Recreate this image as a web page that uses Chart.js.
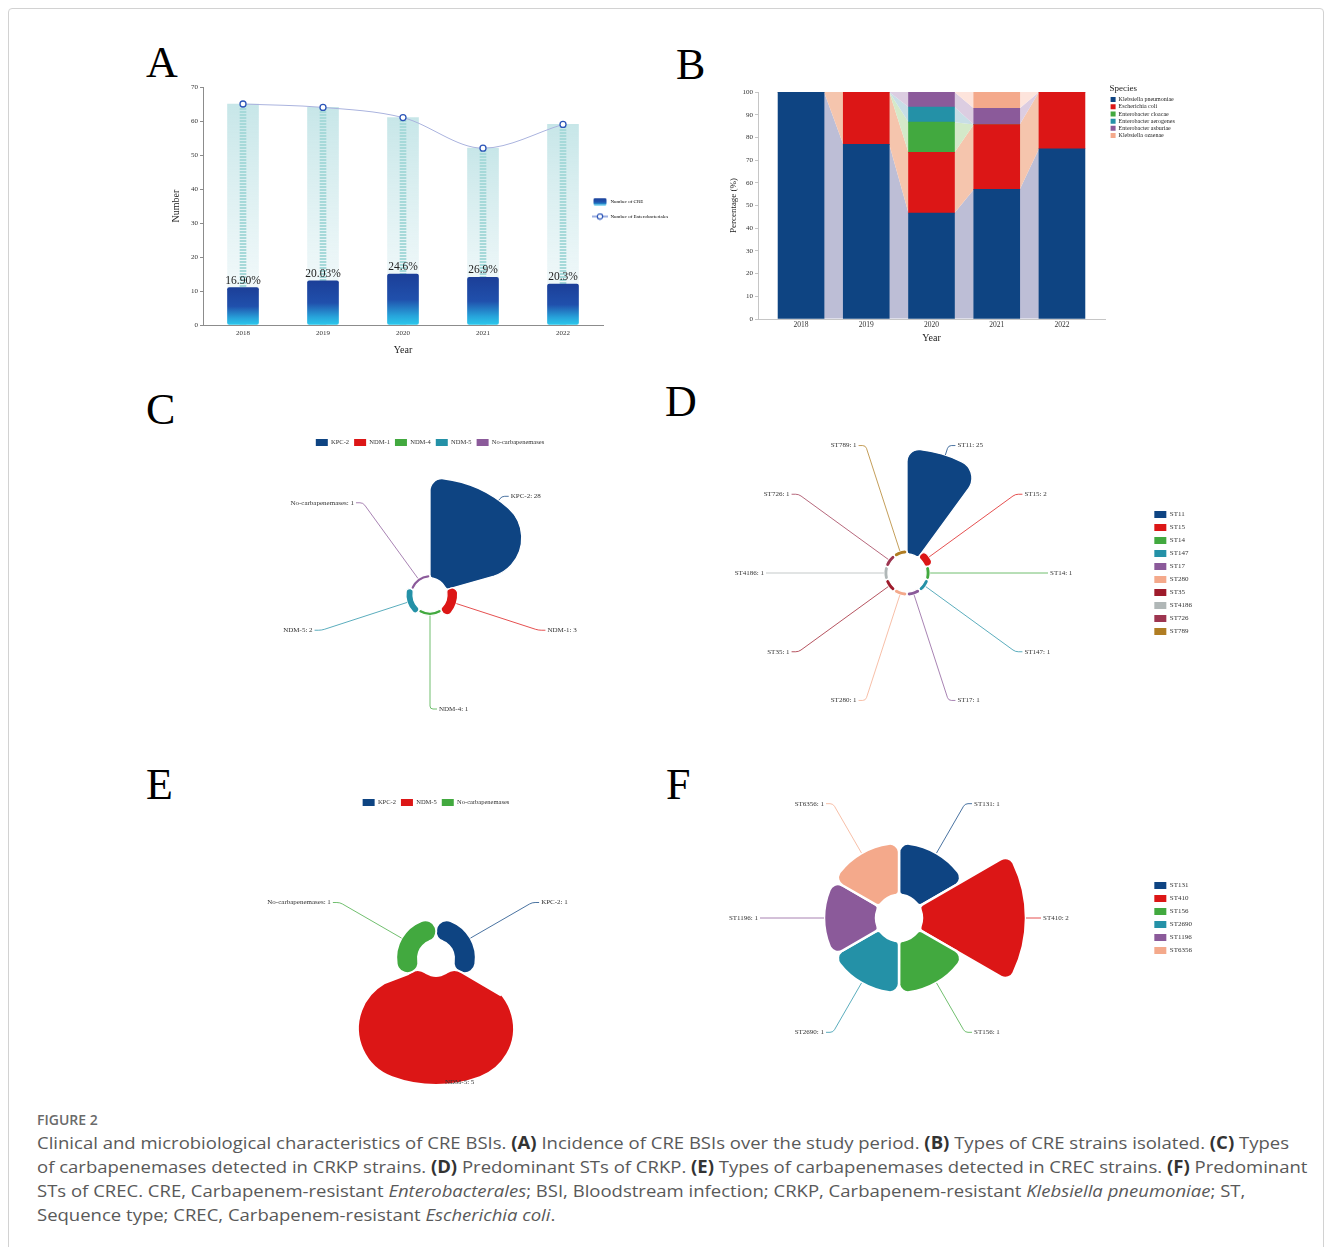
<!DOCTYPE html>
<html>
<head>
<meta charset="utf-8">
<title>Figure 2 – CRE bloodstream infections</title>
<script src="https://cdn.jsdelivr.net/npm/chart.js@4.4.1/dist/chart.umd.min.js"></script>
<style>
  html, body { margin: 0; padding: 0; background: #fff; }
  #page { position: relative; width: 1331px; height: 1247px; overflow: hidden; background: #fff; }
  .frame { position: absolute; left: 8px; top: 8px; width: 1314px; height: 1270px; border: 1px solid #d2d2d2; border-radius: 4px; }
  .panel { position: absolute; }
  .panel canvas { display: block; }
  .letter { position: absolute; font-family: "Liberation Serif", "Times New Roman", serif; font-size: 44px; line-height: 44px; color: #000; }
  .figlabel { position: absolute; left: 37px; top: 1111px; font-family: "Open Sans", sans-serif; font-weight: 600; font-size: 14px; line-height: 18px; color: #6a6a6a; }
  .capline { position: absolute; left: 37px; font-family: "Open Sans", sans-serif; font-size: 17px; line-height: 24px; color: #595959; white-space: nowrap; transform-origin: 0 0; }
  .capline b { color: #333; font-weight: 700; }
</style>
</head>
<body>
<div id="page">
  <div class="frame"></div>

  <div class="letter" style="left:146px; top:41px;">A</div>
  <div class="letter" style="left:676px; top:43px;">B</div>
  <div class="letter" style="left:146px; top:388px;">C</div>
  <div class="letter" style="left:665px; top:380px;">D</div>
  <div class="letter" style="left:146px; top:763px;">E</div>
  <div class="letter" style="left:666px; top:763px;">F</div>

  <div class="panel" style="left:140px; top:75px;"><canvas id="chartA" width="600" height="285"></canvas></div>
  <div class="panel" style="left:700px; top:80px;"><canvas id="chartB" width="520" height="268"></canvas></div>
  <div class="panel" style="left:250px; top:434px;"><canvas id="chartC" width="360" height="300"></canvas></div>
  <div class="panel" style="left:640px; top:423px;"><canvas id="chartD" width="584" height="300"></canvas></div>
  <div class="panel" style="left:256px; top:794px;"><canvas id="chartE" width="360" height="306"></canvas></div>
  <div class="panel" style="left:640px; top:768px;"><canvas id="chartF" width="584" height="300"></canvas></div>

  <div class="figlabel">FIGURE 2</div>
  <div class="capline" style="top:1131px;">Clinical and microbiological characteristics of CRE BSIs. <b>(A)</b> Incidence of CRE BSIs over the study period. <b>(B)</b> Types of CRE strains isolated. <b>(C)</b> Types</div>
  <div class="capline" style="top:1155px;">of carbapenemases detected in CRKP strains. <b>(D)</b> Predominant STs of CRKP. <b>(E)</b> Types of carbapenemases detected in CREC strains. <b>(F)</b> Predominant</div>
  <div class="capline" style="top:1179px;">STs of CREC. CRE, Carbapenem-resistant <i>Enterobacterales</i>; BSI, Bloodstream infection; CRKP, Carbapenem-resistant <i>Klebsiella pneumoniae</i>; ST,</div>
  <div class="capline" style="top:1203px;">Sequence type; CREC, Carbapenem-resistant <i>Escherichia coli</i>.</div>
</div>

<script>
// ---------- data ----------
const years = ['2018', '2019', '2020', '2021', '2022'];

// (A) yearly counts
const creCounts = [11, 13, 15, 14, 12];
const enteroCounts = [65, 64, 61, 52, 59];
const creShareLabels = ['16.90%', '20.03%', '24.6%', '26.9%', '20.3%'];

// (B) species share of CRE isolates per year, %
const speciesNames = ['Klebsiella pneumoniae', 'Escherichia coli', 'Enterobacter cloacae',
                      'Enterobacter aerogenes', 'Enterobacter asburiae', 'Klebsiella ozaenae'];
const kpnPct = [100, 76.9, 46.7, 57.1, 75];
const ecoPct = [0, 23.1, 26.7, 28.6, 25];
const eclPct = [0, 0, 13.3, 0, 0];
const eaePct = [0, 0, 6.7, 0, 0];
const easPct = [0, 0, 6.6, 7.1, 0];
const kozPct = [0, 0, 0, 7.2, 0];

// (C) carbapenemases in CRKP
const crkpEnzymes = ['KPC-2', 'NDM-1', 'NDM-4', 'NDM-5', 'No-carbapenemases'];
const crkpEnzymeCounts = [28, 3, 1, 2, 1];

// (D) sequence types of CRKP
const crkpSTs = ['ST11', 'ST15', 'ST14', 'ST147', 'ST17', 'ST280', 'ST35', 'ST4186', 'ST726', 'ST789'];
const crkpSTCounts = [25, 2, 1, 1, 1, 1, 1, 1, 1, 1];

// (E) carbapenemases in CREC
const crecEnzymes = ['KPC-2', 'NDM-5', 'No-carbapenemases'];
const crecEnzymeCounts = [1, 5, 1];

// (F) sequence types of CREC
const crecSTs = ['ST131', 'ST410', 'ST156', 'ST2690', 'ST1196', 'ST6356'];
const crecSTCounts = [1, 2, 1, 1, 1, 1];

// ---------- palette ----------
const NAVY = '#0e4482', RED = '#dc1616', GREEN = '#42a93f', TEAL = '#2491a7', PURPLE = '#8b5a9a', SALMON = '#f4a98b';
const speciesColors = [NAVY, RED, GREEN, TEAL, PURPLE, SALMON];
const speciesFlowColors = ['#bdbed6', '#f5c5ad', '#d4e9c9', '#c8dee6', '#dccde1', '#fde4dc'];
const stColors = [NAVY, RED, GREEN, TEAL, PURPLE, SALMON, '#9e1b2b', '#b0b7b7', '#9d3550', '#b07d23'];

// ---------- global defaults ----------
const SERIF = "'Liberation Serif', 'Times New Roman', serif";
Chart.defaults.animation = false;
Chart.defaults.events = [];
Chart.defaults.font.family = SERIF;
Chart.defaults.color = '#333';
Chart.defaults.plugins.tooltip.enabled = false;

// ---------- helpers ----------
function hexToRgba(hex, a) {
  const n = parseInt(hex.slice(1), 16);
  return `rgba(${(n >> 16) & 255},${(n >> 8) & 255},${n & 255},${a})`;
}

// vertical gradient spanning a single bar, from its top to the zero line
function barGradient(stops, fallback) {
  return (c) => {
    const chart = c.chart;
    if (!chart.chartArea || c.type !== 'data' || !c.parsed) return fallback;
    const y = chart.scales.y;
    const top = y.getPixelForValue(c.parsed.y);
    const base = y.getPixelForValue(0);
    if (!(base - top > 0)) return fallback;
    const g = chart.ctx.createLinearGradient(0, top, 0, base);
    stops.forEach(([o, col]) => g.addColorStop(o, col));
    return g;
  };
}

// thin striped column fill
function stripePattern() {
  const c = document.createElement('canvas');
  c.width = 6; c.height = 3;
  const g = c.getContext('2d');
  g.fillStyle = '#a6d9d9';
  g.fillRect(0, 0, 6, 2);
  return g.createPattern(c, 'repeat');
}

function iconBar() {
  const c = document.createElement('canvas');
  c.width = 14; c.height = 8;
  const g = c.getContext('2d');
  const gr = g.createLinearGradient(0, 0, 0, 8);
  gr.addColorStop(0, '#1b3f97'); gr.addColorStop(0.6, '#2156b0'); gr.addColorStop(1, '#2ac8ec');
  g.fillStyle = gr;
  g.beginPath(); g.roundRect(0.5, 0.5, 13, 7, 1.5); g.fill();
  return c;
}

function iconLineMarker() {
  const c = document.createElement('canvas');
  c.width = 16; c.height = 8;
  const g = c.getContext('2d');
  g.strokeStyle = '#3a5fc0'; g.lineWidth = 1;
  g.beginPath(); g.moveTo(0, 4); g.lineTo(16, 4); g.stroke();
  g.beginPath(); g.arc(8, 4, 2.7, 0, Math.PI * 2);
  g.fillStyle = '#fff'; g.fill();
  g.lineWidth = 1.2; g.strokeStyle = '#2c55b8'; g.stroke();
  return c;
}

// radial range so that 0 sits on the hole edge and the largest value on the outer edge
function roseRange(maxValue, areaPx, holePx, outerPx) {
  const span = maxValue * areaPx / (outerPx - holePx);
  const min = -holePx * span / areaPx;
  return { min, max: min + span };
}

// keep the plot's right edge at a fixed x whatever the legend width turns out to be
function pinChartRight(chart, right) {
  chart.options.layout.padding.right += chart.chartArea.right - right;
  chart.update();
}

// ---------- plugins ----------
// shifts a legend box inside its canvas
const legendNudge = {
  id: 'legendNudge',
  afterLayout(chart, args, opts) {
    const lg = chart.legend;
    if (!lg || !opts) return;
    const dx = opts.dx || 0, dy = opts.dy || 0;
    lg.left += dx; lg.right += dx; lg.top += dy; lg.bottom += dy;
  }
};

// percentage captions above the CRE columns
const barCaptions = {
  id: 'barCaptions',
  afterDatasetsDraw(chart, args, opts) {
    const meta = chart.getDatasetMeta(opts.datasetIndex);
    const { ctx } = chart;
    ctx.save();
    ctx.font = `${opts.size}px ${SERIF}`;
    ctx.fillStyle = opts.color;
    ctx.textAlign = 'center';
    ctx.textBaseline = 'alphabetic';
    meta.data.forEach((el, i) => {
      const p = el.getProps(['x', 'y'], true);
      ctx.fillText(opts.labels[i], p.x, p.y - opts.gap);
    });
    ctx.restore();
  }
};

// ribbons joining equal series of neighbouring stacked columns
const flowBands = {
  id: 'flowBands',
  beforeDatasetsDraw(chart, args, opts) {
    const { ctx, chartArea } = chart;
    ctx.save();
    ctx.beginPath();
    ctx.rect(chartArea.left, chartArea.top, chartArea.width, chartArea.height);
    ctx.clip();
    chart.data.datasets.forEach((ds, di) => {
      const els = chart.getDatasetMeta(di).data;
      for (let i = 0; i < els.length - 1; i++) {
        const a = els[i].getProps(['x', 'y', 'base', 'width'], true);
        const b = els[i + 1].getProps(['x', 'y', 'base', 'width'], true);
        ctx.beginPath();
        ctx.moveTo(a.x + a.width / 2, a.y);
        ctx.lineTo(b.x - b.width / 2, b.y);
        ctx.lineTo(b.x - b.width / 2, b.base);
        ctx.lineTo(a.x + a.width / 2, a.base);
        ctx.closePath();
        ctx.fillStyle = opts.colors[di];
        ctx.fill();
      }
    });
    ctx.restore();
  }
};

// opens the centre of a rose chart: every sector starts at the value-0 radius
const roseHole = {
  id: 'roseHole',
  afterDatasetUpdate(chart, args) {
    const r = chart.scales.r;
    const inner = r.getDistanceFromCenterForValue(0);
    args.meta.data.forEach((arc) => { arc.innerRadius = inner; });
  }
};

// outside labels with leader lines for rose charts
const roseLabels = {
  id: 'roseLabels',
  afterDatasetsDraw(chart, args, opts) {
    const meta = chart.getDatasetMeta(0);
    const ds = chart.data.datasets[0];
    const labels = chart.data.labels;
    const { ctx } = chart;
    ctx.save();
    ctx.font = `${opts.size}px ${SERIF}`;
    ctx.textBaseline = 'middle';
    meta.data.forEach((arc, i) => {
      const p = arc.getProps(['x', 'y', 'startAngle', 'endAngle', 'outerRadius'], true);
      const mid = (p.startAngle + p.endAngle) / 2;
      const cs = Math.cos(mid), sn = Math.sin(mid);
      const lr = p.outerRadius + opts.beyond > opts.radius ? p.outerRadius + opts.beyond : opts.radius;
      const side = cs >= -1e-6 ? 1 : -1;
      const x1 = p.x + cs * p.outerRadius, y1 = p.y + sn * p.outerRadius;
      const x2 = p.x + cs * lr, y2 = p.y + sn * lr;
      const x3 = x2 + side * opts.hook;
      const bend = Math.min(3, Math.max(0, lr - p.outerRadius));
      ctx.strokeStyle = hexToRgba(ds.backgroundColor[i], 0.75);
      ctx.lineWidth = 1;
      ctx.beginPath();
      if (lr > p.outerRadius) {
        ctx.moveTo(x1, y1);
        ctx.lineTo(x2 - cs * bend, y2 - sn * bend);
        ctx.quadraticCurveTo(x2, y2, x2 + side * 3, y2);
      } else {
        ctx.moveTo(x2, y2);
      }
      ctx.lineTo(x3, y2);
      ctx.stroke();
      ctx.fillStyle = '#333';
      ctx.textAlign = side > 0 ? 'left' : 'right';
      ctx.fillText(`${labels[i]}: ${ds.data[i]}`, x3 + side * 2, y2);
    });
    ctx.restore();
  }
};

// ---------- (A) incidence of CRE ----------
const iconA1 = iconBar();
const iconA2 = iconLineMarker();
const chartA = new Chart(document.getElementById('chartA'), {
  data: {
    labels: years,
    datasets: [
      {
        type: 'bar', label: 'Number of CRE', data: creCounts, order: 1, grouped: false,
        barThickness: 31, borderRadius: 2, borderSkipped: false,
        backgroundColor: barGradient([[0, '#1c3f98'], [0.5, '#2050ac'], [0.82, '#27a4db'], [1, '#2bc9ec']], '#2156b0')
      },
      {
        type: 'line', label: 'Number of Enterobacteriales', data: enteroCounts, order: 0,
        borderColor: '#aab3de', borderWidth: 1, cubicInterpolationMode: 'monotone',
        pointRadius: 3, pointBackgroundColor: '#fff', pointBorderColor: '#2c55b8', pointBorderWidth: 1.3
      },
      {
        type: 'bar', label: 'stripe', data: enteroCounts, order: 2, grouped: false,
        barThickness: 6, backgroundColor: stripePattern()
      },
      {
        type: 'bar', label: 'backdrop', data: enteroCounts, order: 3, grouped: false,
        barThickness: 31,
        backgroundColor: barGradient([[0, 'rgba(196,229,231,0.95)'], [1, 'rgba(240,248,250,0.6)']], '#dff0f1')
      }
    ]
  },
  options: {
    responsive: false,
    layout: { padding: { left: 26, top: 12, right: 0, bottom: 0 } },
    scales: {
      x: {
        grid: { display: false, drawTicks: false },
        border: { color: '#8c8c8c' },
        ticks: { font: { size: 7 }, padding: 4, color: '#333' },
        title: { display: true, text: 'Year', font: { size: 10 }, color: '#222' },
        afterFit: (s) => { s.height = 35; }
      },
      y: {
        min: 0, max: 70,
        ticks: { stepSize: 10, font: { size: 7 }, padding: 2, color: '#333' },
        grid: { display: true, drawOnChartArea: false, tickLength: 3, color: '#8c8c8c' },
        border: { color: '#8c8c8c' },
        title: { display: true, text: 'Number', font: { size: 10 }, color: '#222' },
        afterFit: (s) => { s.width = 37; }
      }
    },
    plugins: {
      legend: {
        position: 'right', align: 'center',
        labels: {
          usePointStyle: true, pointStyleWidth: 16, padding: 10, font: { size: 5 }, color: '#333',
          generateLabels: (chart) => [0, 1].map((di) => ({
            text: chart.data.datasets[di].label,
            pointStyle: di === 0 ? iconA1 : iconA2,
            fillStyle: '#2156b0', strokeStyle: 'transparent', lineWidth: 0,
            hidden: false, datasetIndex: di
          }))
        }
      },
      legendNudge: { dx: -21, dy: -14.5 },
      barCaptions: { datasetIndex: 0, labels: creShareLabels, size: 11.5, gap: 4, color: '#222' }
    }
  },
  plugins: [legendNudge, barCaptions]
});
pinChartRight(chartA, 463);

// ---------- (B) species composition ----------
const speciesSeries = [kpnPct, ecoPct, eclPct, eaePct, easPct, kozPct];
const chartB = new Chart(document.getElementById('chartB'), {
  type: 'bar',
  data: {
    datasets: speciesSeries.map((series, k) => ({
      label: speciesNames[k],
      data: series.map((v, i) => ({ x: i, y: v })),
      backgroundColor: speciesColors[k],
      barThickness: 46,
      borderWidth: 0
    }))
  },
  options: {
    responsive: false,
    layout: { padding: { left: 24, top: 12, right: 0, bottom: 0 } },
    scales: {
      x: {
        type: 'linear', stacked: true, offset: false, min: -0.66, max: 4.66,
        afterBuildTicks: (s) => { s.ticks = years.map((_, i) => ({ value: i })); },
        grid: { display: false, drawTicks: false, offset: false },
        border: { color: '#c6c6c6' },
        ticks: { font: { size: 7.5 }, padding: 2, color: '#333', callback: (v) => years[v] },
        title: { display: true, text: 'Year', font: { size: 10 }, color: '#222' },
        afterFit: (s) => { s.height = 29; }
      },
      y: {
        stacked: true, min: 0, max: 100,
        ticks: { stepSize: 10, font: { size: 7 }, padding: 2, color: '#333' },
        grid: { display: true, drawOnChartArea: false, tickLength: 3, color: '#c6c6c6' },
        border: { color: '#c6c6c6' },
        title: { display: true, text: 'Percentage (%)', font: { size: 9 }, color: '#222' },
        afterFit: (s) => { s.width = 34; }
      }
    },
    plugins: {
      legend: {
        position: 'right', align: 'start',
        title: { display: true, text: 'Species', position: 'start', font: { size: 9 }, color: '#222', padding: { top: 0, bottom: 0.75 } },
        labels: { boxWidth: 5, boxHeight: 5, padding: 1.2, font: { size: 6 }, color: '#222' }
      },
      legendNudge: { dx: 4.4, dy: -8.2 },
      flowBands: { colors: speciesFlowColors }
    }
  },
  plugins: [legendNudge, flowBands]
});
pinChartRight(chartB, 405);

// ---------- rose charts (C–F) ----------
function roseChart(id, cfg) {
  const range = roseRange(Math.max(...cfg.values), cfg.area, cfg.hole, cfg.outer);
  return new Chart(document.getElementById(id), {
    type: 'polarArea',
    data: {
      labels: cfg.labels,
      datasets: [{
        data: cfg.values,
        backgroundColor: cfg.colors,
        borderColor: '#fff',
        borderWidth: cfg.gap,
        borderRadius: cfg.corner
      }]
    },
    options: {
      responsive: false,
      layout: { padding: cfg.padding },
      scales: { r: { display: false, min: range.min, max: range.max, startAngle: 0 } },
      plugins: {
        legend: Object.assign({
          labels: {
            boxWidth: 12, boxHeight: 7, useBorderRadius: true, borderRadius: 3,
            padding: cfg.legendPadding, font: { size: cfg.legendFont }, color: '#333',
            generateLabels: (chart) => Chart.overrides.polarArea.plugins.legend.labels
              .generateLabels(chart).map((l) => Object.assign(l, { lineWidth: 0, strokeStyle: 'transparent' }))
          }
        }, cfg.legend),
        roseLabels: cfg.labelOpts
      }
    },
    plugins: [roseHole, roseLabels]
  });
}

// (C)
roseChart('chartC', {
  labels: crkpEnzymes, values: crkpEnzymeCounts, colors: [NAVY, RED, GREEN, TEAL, PURPLE],
  area: 139, hole: 17, outer: 117, gap: 1.3,
  corner: { outerStart: 12, outerEnd: 40, innerStart: 3, innerEnd: 3 },
  padding: 0, legendPadding: 5, legendFont: 6.5,
  legend: { position: 'top', align: 'center' },
  labelOpts: { radius: 114, beyond: 5, hook: 7, size: 7 }
});

// (D)
roseChart('chartD', {
  labels: crkpSTs, values: crkpSTCounts, colors: stColors,
  area: 150, hole: 19, outer: 124, gap: 1.3,
  corner: { outerStart: 12, outerEnd: 18, innerStart: 3, innerEnd: 3 },
  padding: { left: 27, right: 22, top: 0, bottom: 0 }, legendPadding: 6, legendFont: 7,
  legend: { position: 'right', align: 'center', maxWidth: 55 },
  labelOpts: { radius: 134, beyond: 8, hook: 7, size: 7 }
});

// (E)
roseChart('chartE', {
  labels: crecEnzymes, values: crecEnzymeCounts, colors: [NAVY, RED, GREEN],
  area: 142, hole: 18, outer: 127, gap: 2,
  corner: { outerStart: 52, outerEnd: 52, innerStart: 14, innerEnd: 14 },
  padding: 0, legendPadding: 5, legendFont: 6.5,
  legend: { position: 'top', align: 'center' },
  labelOpts: { radius: 111, beyond: -3, hook: 7, size: 7 }
});

// (F)
roseChart('chartF', {
  labels: crecSTs, values: crecSTCounts, colors: [NAVY, RED, GREEN, TEAL, PURPLE, SALMON],
  area: 150, hole: 23, outer: 127, gap: 2.5,
  corner: { outerStart: 9, outerEnd: 9, innerStart: 4, innerEnd: 4 },
  padding: { left: 11, right: 22, top: 0, bottom: 0 }, legendPadding: 6, legendFont: 7,
  legend: { position: 'right', align: 'center', maxWidth: 55 },
  labelOpts: { radius: 132, beyond: 8, hook: 7, size: 7 }
});

// ---------- caption width ----------
function fitCaption() {
  const lines = document.querySelectorAll('.capline');
  lines.forEach((l) => { l.style.transform = 'none'; });
  const natural = lines[0].getBoundingClientRect().width;
  const k = 1252 / natural;
  lines.forEach((l) => { l.style.transform = `scaleX(${k})`; });
}
fitCaption();
if (document.fonts && document.fonts.ready) document.fonts.ready.then(fitCaption);
</script>
</body>
</html>
